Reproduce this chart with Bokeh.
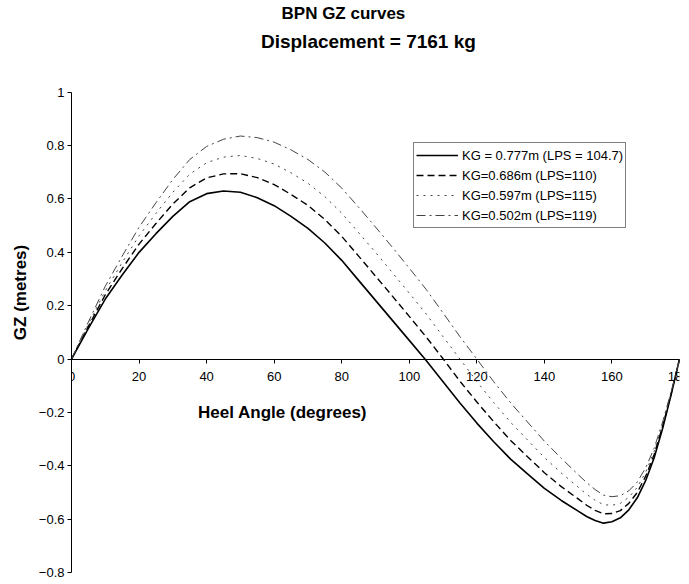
from bokeh.plotting import figure
from bokeh.models import Legend, LegendItem, Label, FixedTicker
from bokeh.embed import file_html
from bokeh.resources import INLINE

heel = [0, 5, 10, 15, 20, 25, 30, 35, 40, 45, 50, 55, 60, 65, 70, 75, 80, 85, 90,
        95, 100, 105, 110, 115, 120, 125, 130, 135, 140, 145, 150, 152.5, 155, 157.5,
        160, 162.5, 165, 167.5, 170, 172.5, 175, 177.5, 180]

gz_777 = [0, 0.115, 0.225, 0.315, 0.40, 0.47, 0.535, 0.59, 0.62, 0.63, 0.625, 0.605, 0.575,
          0.535, 0.49, 0.435, 0.37, 0.295, 0.22, 0.145, 0.07, -0.005, -0.085, -0.165, -0.24,
          -0.31, -0.375, -0.43, -0.485, -0.53, -0.57, -0.59, -0.605, -0.615,
          -0.61, -0.595, -0.565, -0.52, -0.455, -0.37, -0.26, -0.135, 0]
gz_686 = [0, 0.123, 0.241, 0.339, 0.431, 0.508, 0.581, 0.642, 0.679, 0.694, 0.695, 0.680, 0.654,
          0.617, 0.576, 0.523, 0.460, 0.386, 0.311, 0.236, 0.160, 0.083, 0.001, -0.083, -0.161,
          -0.235, -0.305, -0.366, -0.426, -0.478, -0.524, -0.548, -0.567, -0.58,
          -0.579, -0.568, -0.541, -0.50, -0.439, -0.358, -0.252, -0.131, 0]
gz_597 = [0, 0.131, 0.256, 0.362, 0.462, 0.546, 0.625, 0.693, 0.736, 0.757, 0.763, 0.752, 0.731,
          0.698, 0.659, 0.609, 0.547, 0.474, 0.400, 0.324, 0.247, 0.169, 0.084, 0.0, -0.084,
          -0.163, -0.237, -0.303, -0.369, -0.427, -0.48, -0.507, -0.529, -0.546,
          -0.548, -0.541, -0.518, -0.481, -0.424, -0.346, -0.244, -0.127, 0]
gz_502 = [0, 0.139, 0.273, 0.386, 0.494, 0.586, 0.673, 0.748, 0.797, 0.824, 0.836, 0.83, 0.813,
          0.784, 0.748, 0.701, 0.641, 0.569, 0.495, 0.419, 0.341, 0.261, 0.173, 0.084, 0.0,
          -0.085, -0.164, -0.236, -0.308, -0.372, -0.433, -0.463, -0.489, -0.51,
          -0.516, -0.512, -0.494, -0.461, -0.407, -0.334, -0.236, -0.123, 0]

labels = ["KG = 0.777m (LPS = 104.7)", "KG=0.686m (LPS=110)",
          "KG=0.597m (LPS=115)", "KG=0.502m (LPS=119)"]
x_ticks = [0, 20, 40, 60, 80, 100, 120, 140, 160, 180]
y_ticks = [-0.8, -0.6, -0.4, -0.2, 0, 0.2, 0.4, 0.6, 0.8, 1]
title_lines = ["BPN GZ curves", "Displacement = 7161 kg"]

FONT = "Liberation Sans"
INK = "black"

# frame fills the full height; the y axis is bounded to [-0.8, 1]
p = figure(width=689, height=584, x_range=(0, 180), y_range=(-0.845, 1.344),
           output_backend="svg", toolbar_location=None,
           min_border_left=71, min_border_right=10, min_border_top=0, min_border_bottom=0)
p.outline_line_color = None
p.grid.visible = False
p.background_fill_color = "white"
p.title = None

p.add_layout(Label(x=80.5, y=1.297, text=title_lines[0], text_color=INK,
                   text_align="center", text_baseline="middle", text_font=FONT,
                   text_font_size="17px", text_font_style="bold"))
p.add_layout(Label(x=87.9, y=1.19, text=title_lines[1], text_color=INK,
                   text_align="center", text_baseline="middle",
                   text_font=FONT, text_font_size="19px", text_font_style="bold"))

# y axis (at x = 0, the left frame edge)
yax = p.yaxis[0]
yax.bounds = (-0.8, 1.0)
yax.ticker = FixedTicker(ticks=y_ticks)
yax.minor_tick_line_color = None
yax.major_tick_in = 0
yax.major_tick_out = 4
yax.axis_line_color = INK
yax.major_tick_line_color = INK
yax.major_label_text_color = INK
yax.major_label_text_font = FONT
yax.major_label_text_font_size = "13px"
yax.major_label_standoff = 3
yax.axis_label = "GZ (metres)"
yax.axis_label_text_color = INK
yax.axis_label_text_font = FONT
yax.axis_label_text_font_size = "17px"
yax.axis_label_text_font_style = "bold"
yax.axis_label_standoff = 6
yax.major_label_overrides = {1: "1", 0: "0"}

# x axis drawn through y = 0
xax = p.xaxis[0]
xax.fixed_location = 0
xax.ticker = FixedTicker(ticks=x_ticks)
xax.minor_tick_line_color = None
xax.major_tick_in = 0
xax.major_tick_out = 4
xax.axis_line_color = INK
xax.major_tick_line_color = INK
xax.major_label_text_color = INK
xax.major_label_text_font = FONT
xax.major_label_text_font_size = "13px"
xax.major_label_standoff = 9

p.add_layout(Label(x=62.5, y=-0.2, text="Heel Angle (degrees)", text_align="center",
                   text_color=INK, text_baseline="middle", text_font=FONT,
                   text_font_size="17px", text_font_style="bold"))

r1 = p.line(heel, gz_777, line_color="black", line_width=1.6)
r2 = p.line(heel, gz_686, line_color="black", line_width=1.4, line_dash="7 4")
r3 = p.line(heel, gz_597, line_color="#444444", line_width=1.0, line_dash="2 5")
r4 = p.line(heel, gz_502, line_color="#444444", line_width=1.0, line_dash="9 4 2 4")

legend = Legend(items=[LegendItem(label=labels[0], renderers=[r1]),
                       LegendItem(label=labels[1], renderers=[r2]),
                       LegendItem(label=labels[2], renderers=[r3]),
                       LegendItem(label=labels[3], renderers=[r4])],
                location=(342, 356), padding=2, spacing=0, margin=0,
                label_height=20, glyph_height=20, glyph_width=42, label_standoff=4,
                label_text_font=FONT, label_text_font_size="13px", label_text_color=INK,
                border_line_color="black", border_line_width=1,
                background_fill_alpha=1.0)
p.add_layout(legend, "center")

open("out.html", "w").write(file_html(p, INLINE))
